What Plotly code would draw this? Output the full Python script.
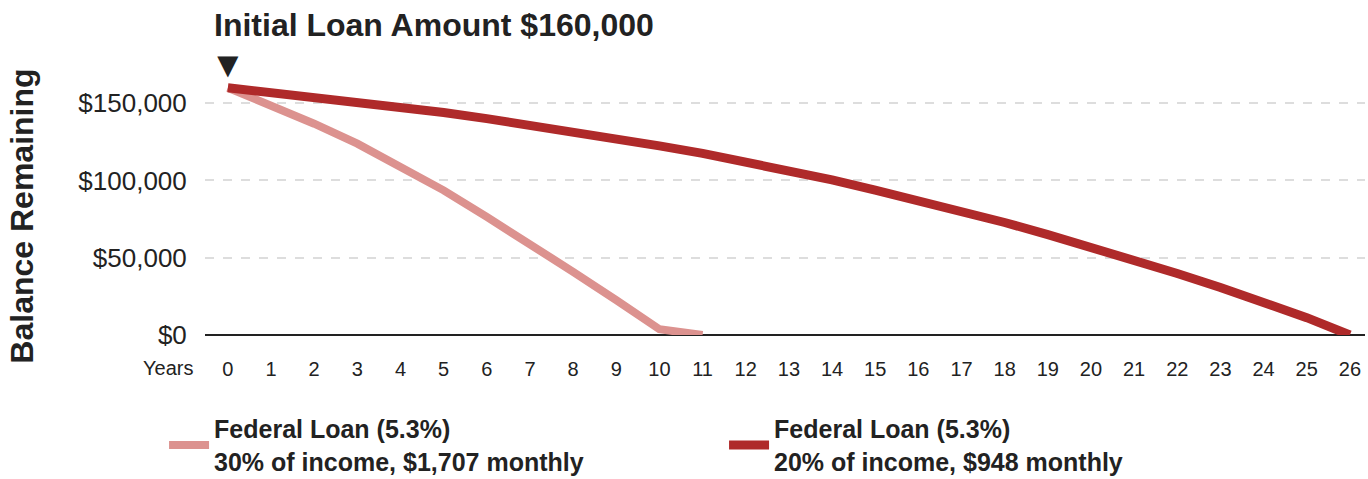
import plotly.graph_objects as go

years = list(range(0, 27))
light_years = list(range(0, 12))
light_balance = [160000, 148500, 136700, 123800, 108700, 93600, 76400, 59200, 40900, 22600, 3700, 0]
dark_balance = [160000, 156800, 154300, 151200, 147800, 144000, 140000, 135800, 131600, 127100,
                122400, 117500, 112200, 106500, 100400, 93700, 86900, 79800, 72800, 65000,
                57000, 48400, 39800, 30800, 21300, 11200, 0]
light_name = "Federal Loan (5.3%)<br>30% of income, $1,707 monthly"
dark_name = "Federal Loan (5.3%)<br>20% of income, $948 monthly"
y_ticks = [0, 50000, 100000, 150000]
y_ticktext = ["$0", "$50,000", "$100,000", "$150,000"]

LIGHT = "#DC928F"
DARK = "#AF2A2A"
FONT = "Liberation Sans, Arial, sans-serif"

fig = go.Figure()
fig.add_trace(go.Scatter(x=light_years, y=light_balance, mode="lines", name=light_name,
                         line=dict(color=LIGHT, width=8)))
fig.add_trace(go.Scatter(x=years, y=dark_balance, mode="lines", name=dark_name,
                         line=dict(color=DARK, width=9)))

fig.update_layout(
    width=1368, height=479,
    margin=dict(l=205, r=3, t=80, b=144, autoexpand=False),
    plot_bgcolor="white", paper_bgcolor="white",
    font=dict(family=FONT, color="#222"),
    showlegend=True,
    legend=dict(orientation="h", x=-0.0353, xanchor="left", y=-0.5843, yanchor="bottom",
                font=dict(family=FONT, size=25, color="#222", weight="bold"),
                entrywidth=505, entrywidthmode="pixels", itemwidth=40,
                tracegroupgap=0, borderwidth=0),
    xaxis=dict(range=[-0.53, 26.35], tickmode="array", tickvals=years,
               ticktext=[str(v) for v in years], showgrid=False, zeroline=False,
               showline=False, ticks="outside", ticklen=16, tickcolor="rgba(0,0,0,0)",
               automargin=False,
               tickfont=dict(size=20, color="#222", family=FONT)),
    yaxis=dict(range=[0, 165000], tickmode="array", tickvals=y_ticks, ticktext=y_ticktext,
               showgrid=True, gridcolor="#dddddd", griddash="dash", gridwidth=1.5,
               zeroline=True, zerolinecolor="#222", zerolinewidth=2, showline=False,
               ticks="outside", ticklen=12, tickcolor="rgba(0,0,0,0)", automargin=False,
               tickfont=dict(size=26, color="#222", family=FONT)),
)

fig.add_annotation(text="Initial Loan Amount $160,000", xref="paper", yref="paper",
                   x=0.006, y=1.216, xanchor="left", yanchor="middle", showarrow=False,
                   font=dict(size=32, color="#222", family=FONT, weight="bold"))
fig.add_annotation(text="▼", xref="x", yref="paper", x=0, y=1.059, xanchor="center",
                   yanchor="middle", showarrow=False, font=dict(size=36, color="#222"))
fig.add_annotation(text="Balance Remaining", xref="paper", yref="paper", x=-0.158, y=0.467,
                   textangle=-90, xanchor="center", yanchor="middle", showarrow=False,
                   font=dict(size=32, color="#222", family=FONT, weight="bold"))
fig.add_annotation(text="Years", xref="paper", yref="paper", x=-0.009, y=-0.129,
                   xanchor="right", yanchor="middle", showarrow=False,
                   font=dict(size=20, color="#222", family=FONT))

fig.write_html("out.html", config={"displayModeBar": False},
               post_script="document.body.style.margin='0px';document.body.style.overflow='hidden';")
